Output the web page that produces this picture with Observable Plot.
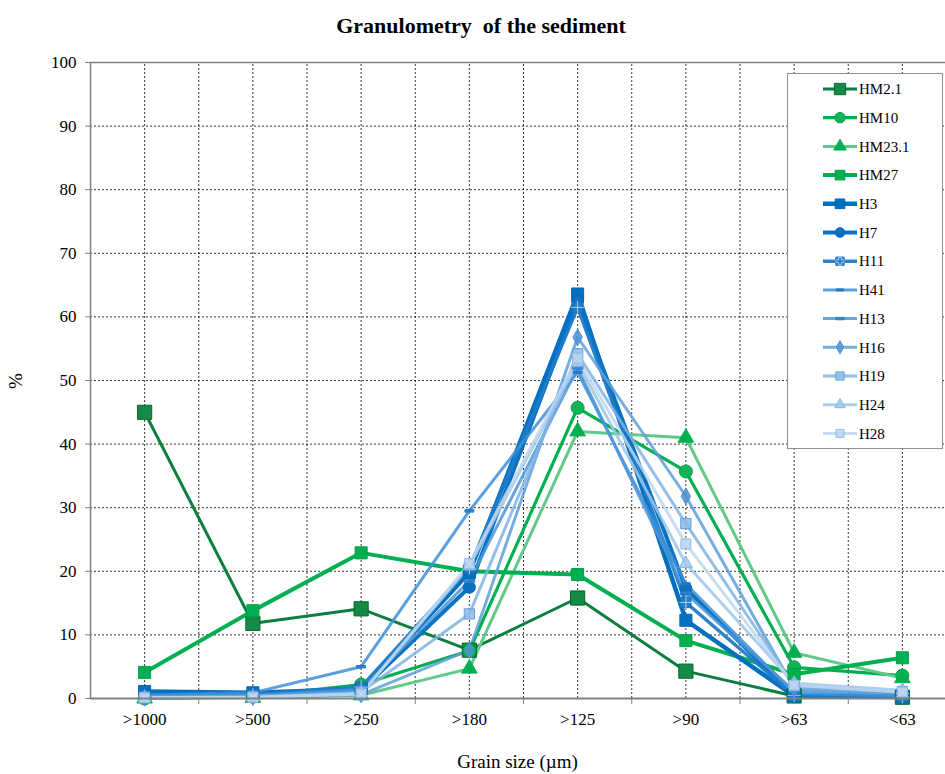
<!DOCTYPE html>
<html>
<head>
<meta charset="utf-8">
<script src="https://cdn.jsdelivr.net/npm/d3@7"></script>
<script src="https://cdn.jsdelivr.net/npm/@observablehq/plot@0.6"></script>
<style>
  body { margin: 0; background: white; }
  #wrap { position: relative; width: 945px; height: 774px; overflow: hidden; font-family: "Liberation Serif", "Times New Roman", serif; }
  #title { position: absolute; left: 0; top: 13px; width: 962px; text-align: center; font-weight: bold; font-size: 22px; line-height: 26px; white-space: pre; }
  #xlab { position: absolute; left: 90px; width: 855px; top: 752px; text-align: center; font-size: 19px; line-height: 20px; }
  #ylab { position: absolute; left: 8px; top: 370px; font-size: 19px; transform: rotate(-90deg); }
  #legend { position: absolute; left: 787px; top: 73px; }
  #chart svg text { font-size: 17px; }
</style>
</head>
<body>
<div id="wrap">
  <div id="chart"></div>
  <div id="title">Granulometry  of the sediment</div>
  <div id="ylab">%</div>
  <div id="xlab">Grain size (µm)</div>
  <div id="legend"></div>
</div>
<script>
const categories = [">1000", ">500", ">250", ">180", ">125", ">90", ">63", "<63"];
const yTicks = [0, 10, 20, 30, 40, 50, 60, 70, 80, 90, 100];

const seriesNames = ["HM2.1", "HM10", "HM23.1", "HM27", "H3", "H7", "H11", "H41", "H13", "H16", "H19", "H24", "H28"];
const HM2_1 = [45.0, 11.8, 14.1, 7.6, 15.8, 4.3, 0.4, 0.2];
const HM10  = [0.0, 0.3, 2.2, 7.5, 45.7, 35.7, 4.9, 3.6];
const HM23_1= [0.0, 0.1, 0.5, 4.7, 42.0, 41.0, 7.2, 3.2];
const HM27  = [4.1, 13.8, 22.9, 20.0, 19.5, 9.1, 3.8, 6.4];
const H3    = [1.1, 0.9, 1.5, 19.8, 63.6, 12.3, 0.4, 0.3];
const H7    = [0.2, 0.4, 1.3, 17.5, 62.5, 17.3, 0.3, 0.2];
const H11   = [0.4, 0.6, 1.8, 20.5, 61.5, 15.1, 0.5, 0.3];
const H41   = [0.6, 0.9, 5.0, 29.5, 51.3, 18.0, 0.8, 0.4];
const H13   = [0.3, 0.5, 1.4, 18.5, 52.0, 16.5, 1.2, 0.6];
const H16   = [0.1, 0.2, 0.6, 7.6, 56.8, 31.8, 1.6, 0.9];
const H19   = [0.2, 0.3, 1.0, 13.3, 54.2, 27.5, 2.0, 1.1];
const H24   = [0.1, 0.2, 0.8, 20.8, 52.8, 21.2, 2.4, 1.3];
const H28   = [0.1, 0.2, 0.7, 21.2, 53.5, 24.3, 2.1, 1.0];
const seriesValues = [HM2_1, HM10, HM23_1, HM27, H3, H7, H11, H41, H13, H16, H19, H24, H28];

// custom dash symbol
const dashSym = { draw(ctx, size) { const w = Math.sqrt(size) * 1.0, h = Math.sqrt(size) * 0.28; ctx.rect(-w / 2, -h / 2, w, h); } };

const styles = [
  { line: "#0a7f3f", lw: 3,   sym: "square",   r: 8.0, fill: "#138a45", stroke: "#006a2c", op: 1 },
  { line: "#00b050", lw: 3.2, sym: "circle",   r: 6.5, fill: "#12b457", stroke: "#00a048", op: 1 },
  { line: "#62c98a", lw: 3,   sym: "triangle", r: 5.8, fill: "#00b050", stroke: "#00b050", op: 1 },
  { line: "#00b050", lw: 4,   sym: "square",   r: 6.8, fill: "#00b050", stroke: "#00a048", op: 1 },
  { line: "#0070c0", lw: 4.5, sym: "square",   r: 6.8, fill: "#0070c0", stroke: "#0068b4", op: 1 },
  { line: "#0a72c2", lw: 4,   sym: "circle",   r: 6.0, fill: "#0a70c0", stroke: "#0068b4", op: 1 },
  { line: "#1f7bc8", lw: 3.5, sym: "square",   r: 5.8, fill: "#1f7bc8", stroke: "#1a6fb8", op: 0.95, inner: "plus" },
  { line: "#3d8fd6", lw: 3,   sym: dashSym,    r: 5.0, fill: "#1f78c4", stroke: "#1f78c4", op: 0.85 },
  { line: "#4a96d8", lw: 3,   sym: dashSym,    r: 6.0, fill: "#2f80c8", stroke: "#2f80c8", op: 0.85 },
  { line: "#5e9fd8", lw: 3,   sym: "diamond",  r: 5.0, fill: "#4d92d2", stroke: "#4d92d2", op: 0.85 },
  { line: "#7fb3e3", lw: 3,   sym: "square",   r: 5.8, fill: "#8dbbe6", stroke: "#5f9fd9", op: 0.85 },
  { line: "#9cc5ea", lw: 3,   sym: "triangle", r: 4.8, fill: "#a5caec", stroke: "#7fb3e3", op: 0.85 },
  { line: "#bdd7ee", lw: 3,   sym: "square",   r: 5.6, fill: "#b7d3ee", stroke: "#8fbbe3", op: 0.85, inner: "times" }
];

const rows = [];
seriesNames.forEach((name, s) => {
  seriesValues[s].forEach((v, i) => rows.push({ series: name, s, i, cat: categories[i], v }));
});

const gridX = d3.range(0, 7.01, 0.5);
const boundaries = d3.range(0.5, 7.01, 1);
const centers = d3.range(0, 8);

const marks = [
  Plot.ruleY(yTicks.filter(t => t > 0 && t < 100), { x1: -0.5, x2: 7.5, stroke: "#000", strokeWidth: 0.8, strokeDasharray: "2,2" }),
  Plot.ruleX(gridX, { y1: 0, y2: 100, stroke: "#000", strokeWidth: 0.8, strokeDasharray: "2,2" }),
  Plot.ruleY([100], { x1: -0.5, x2: 7.5, stroke: "#808080", strokeWidth: 1.5 }),
  Plot.ruleX([-0.5], { y1: 0, y2: 100, stroke: "#808080", strokeWidth: 1.5 }),
  Plot.axisY({ ticks: yTicks, label: null, tickSize: 5, tickPadding: 9, stroke: "#808080", fontSize: 17, fill: "#000" }),
  Plot.axisX({ ticks: boundaries, label: null, tickSize: 6, tickFormat: () => "", stroke: "#808080" }),
  Plot.axisX({ ticks: centers, label: null, tickSize: 0, tickPadding: 14, tickFormat: i => categories[i], fontSize: 17, fill: "#000" })
];

seriesNames.forEach((name, s) => {
  const st = styles[s];
  const data = rows.filter(d => d.s === s);
  marks.push(Plot.line(data, { x: "i", y: "v", stroke: st.line, strokeWidth: st.lw, strokeOpacity: st.op }));
});
seriesNames.forEach((name, s) => {
  const st = styles[s];
  const data = rows.filter(d => d.s === s);
  marks.push(Plot.dot(data, { x: "i", y: "v", symbol: st.sym, r: st.r, fill: st.fill, stroke: st.stroke, strokeWidth: 1, fillOpacity: st.op }));
  if (st.inner) marks.push(Plot.dot(data, { x: "i", y: "v", symbol: st.inner, r: st.r * 0.75, stroke: "#cfe2f5", strokeWidth: 0.8, fill: "none" }));
});
marks.push(Plot.ruleY([0], { x1: -0.5, x2: 7.5, stroke: "#808080", strokeWidth: 2 }));

const chart = Plot.plot({
  width: 945, height: 774,
  marginTop: 62, marginBottom: 76, marginLeft: 90, marginRight: 0,
  style: { fontFamily: "Liberation Serif, Times New Roman, serif", fontSize: "17px", background: "white", overflow: "visible" },
  x: { type: "linear", domain: [-0.5, 7.5], range: [90, 956], axis: null },
  y: { domain: [0, 100], axis: null },
  marks
});
document.getElementById("chart").appendChild(chart);

// legend
const lw = 156, lh = 376;
const lsvg = d3.select("#legend").append("svg").attr("width", lw).attr("height", lh)
  .style("font-family", "Liberation Serif, Times New Roman, serif");
lsvg.append("rect").attr("x", 0.5).attr("y", 0.5).attr("width", lw - 1).attr("height", lh - 1)
  .attr("fill", "white").attr("stroke", "#909090");
const toD3 = { square: d3.symbolSquare, circle: d3.symbolCircle, triangle: d3.symbolTriangle, diamond: d3.symbolDiamond, plus: d3.symbolCross, times: d3.symbolX };
seriesNames.forEach((name, s) => {
  const st = styles[s];
  const y = 16 + s * 28.7;
  const g = lsvg.append("g");
  g.append("line").attr("x1", 36).attr("x2", 70).attr("y1", y).attr("y2", y)
    .attr("stroke", st.line).attr("stroke-width", st.lw).attr("stroke-opacity", st.op);
  const type = typeof st.sym === "string" ? toD3[st.sym] : st.sym;
  const size = Math.PI * (st.r * 0.8) ** 2;
  g.append("path").attr("transform", `translate(53,${y})`).attr("d", d3.symbol(type, size)())
    .attr("fill", st.fill).attr("stroke", st.stroke).attr("fill-opacity", st.op);
  if (st.inner) g.append("path").attr("transform", `translate(53,${y})`).attr("d", d3.symbol(toD3[st.inner], size * 0.5)())
    .attr("fill", "none").attr("stroke", "#cfe2f5").attr("stroke-width", 0.8);
  g.append("text").attr("x", 72).attr("y", y).attr("dy", "0.35em").attr("font-size", 15).text(name);
});
</script>
</body>
</html>
